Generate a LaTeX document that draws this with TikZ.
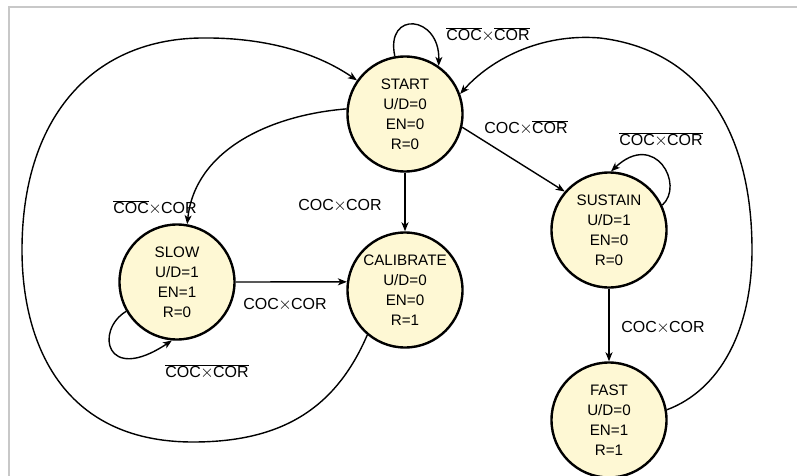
\documentclass[tikz,border=0pt]{standalone}
\usepackage{fontspec}
\setmainfont{Liberation Sans}
\usetikzlibrary{arrows.meta}
\definecolor{statefill}{HTML}{FEF8D4}
\definecolor{framegray}{HTML}{C8C8C8}
\newcommand{\ovl}[1]{$\overline{\mbox{#1}}$}
\newcommand{\tx}{\kern-0.6pt$\times$\kern-0.6pt}
\begin{document}
\begin{tikzpicture}[x=1pt,y=-1pt,
  stnode/.style={circle, draw, line width=2.4pt, fill=statefill, minimum size=115pt,
    inner sep=0pt, align=center, font=\fontsize{15.2}{20}\selectfont},
  edge/.style={line width=1.4pt, -{Stealth[length=9pt,width=7pt,inset=2.5pt]}},
  lbl/.style={font=\fontsize{16}{18}\selectfont, inner sep=1pt}]
\useasboundingbox (0,0) rectangle (797,476);
\draw[framegray, line width=1.5pt] (9,476) -- (9,7) -- (797,7);

\node[stnode] (start) at (405,114) {START\\U/D=0\\EN=0\\R=0};
\node[stnode] (slow) at (177,282) {SLOW\\U/D=1\\EN=1\\R=0};
\node[stnode] (cal) at (405,290) {CALIBRATE\\U/D=0\\EN=0\\R=1};
\node[stnode] (sus) at (609,230) {SUSTAIN\\U/D=1\\EN=0\\R=0};
\node[stnode] (fast) at (609,420) {FAST\\U/D=0\\EN=1\\R=1};

% self loops
\draw[edge] (start.100) .. controls (385,10) and (440,15) .. (start.55);
\draw[edge] (slow.210) .. controls (95,330) and (105,385) .. (slow.265);
\draw[edge] (sus.25) .. controls (685,185) and (655,130) .. (sus.88);

% straight transitions
\draw[edge] (start) -- (cal);
\draw[edge] (slow.0) -- (cal.172);
\draw[edge] (start.-13) -- (sus.139);
\draw[edge] (sus) -- (fast);

% curved transitions
\draw[edge] (start.175) .. controls (270,115) and (195,150) .. (slow.80);
\draw[edge] (cal.230) .. controls (335,410) and (280,442) .. (193,442)
  .. controls (60,442) and (22,340) .. (22,250)
  .. controls (22,120) and (90,40) .. (200,38)
  .. controls (270,37) and (320,55) .. (start.145);
\draw[edge] (fast.10) .. controls (720,390) and (752,330) .. (752,250)
  .. controls (752,130) and (700,50) .. (600,38)
  .. controls (540,33) and (490,60) .. (start.20);

% labels
\node[lbl] (l1) at (488,35) {\ovl{COC}\tx\ovl{COR}};
\node[lbl] (l2) at (155,208) {\ovl{COC}\tx COR};
\node[lbl] (l3) at (340,206) {COC\tx COR};
\node[lbl] (l4) at (526,128) {COC\tx\ovl{COR}};
\node[lbl] (l5) at (661,140) {\ovl{COC\tx COR}};
\node[lbl] (l6) at (285,305) {COC\tx COR};
\node[lbl] (l7) at (207,372) {\ovl{COC\tx COR}};
\node[lbl] (l8) at (663,328) {COC\tx COR};
\end{tikzpicture}
\end{document}
